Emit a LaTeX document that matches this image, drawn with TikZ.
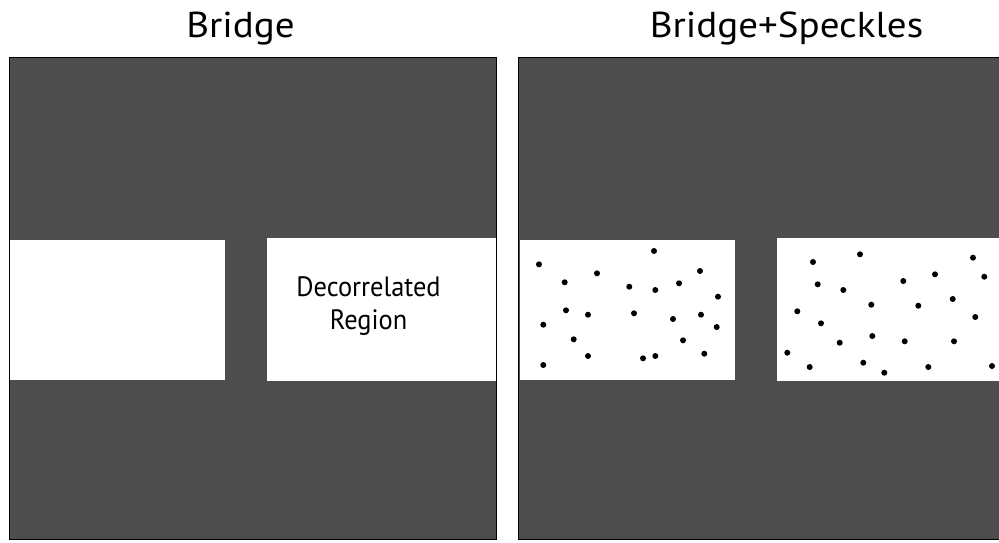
\documentclass[tikz,border=0pt]{standalone}
\usepackage{graphicx}
\usepackage{fontspec}
\setmainfont{PT Sans}
\definecolor{panelgray}{HTML}{4D4D4D}
\begin{document}
\begin{tikzpicture}[x=1pt,y=-1pt,
  panelfill/.style={fill=panelgray},
  frameline/.style={draw=black,line width=1.5pt},
  hole/.style={fill=white},
  speck/.style={fill=black},
  paneltitle/.style={anchor=base,inner sep=0pt,font=\fontsize{36}{40}\selectfont},
  regiontext/.style={anchor=base,inner sep=0pt,font=\fontsize{28}{32}\selectfont}]
\useasboundingbox (0,0) rectangle (999,542);
\clip (0,0) rectangle (999,542);
% titles
\node[paneltitle] (t1) at (240.5,37.5) {\scalebox{1.085}[1]{Bridge}};
\node[paneltitle] (t2) at (786.5,37.5) {\scalebox{1.085}[1]{Bridge+Speckles}};
% left panel
\fill[panelfill] (9.5,57.5) rectangle (496.5,539.5);
\fill[hole] (10,240) rectangle (225,380);
\fill[hole] (267,238) rectangle (496.5,381);
\draw[frameline] (9.5,57.5) rectangle (496.5,539.5);
\node[regiontext] (r1) at (368.5,296.7) {\scalebox{0.943}[1]{Decorrelated}};
\node[regiontext] (r2) at (368.5,329) {\scalebox{0.943}[1]{Region}};
% right panel
\fill[panelfill] (518.5,57.5) rectangle (1010,539.5);
\fill[hole] (520,240) rectangle (735,380);
\fill[hole] (777,238) rectangle (1010,381);
\draw[frameline] (518.5,57.5) rectangle (1010,539.5);
% speckles
\foreach \px/\py in {539/264.3,654/251,564.7/282.3,597/273.3,700/271,629.3/286.7,655.3/290,679/283.3,718/296.7,566/310.3,588/314.7,634/313.3,673/319,701/314.7,543.3/324.7,716.7/327,573.7/339.3,683/340.3,588/356,643/358.3,655.3/356,704.3/353.7,543.3/365,
813/262,860/254.3,973/257.7,817.7/284.3,843.3/290,903.3/281,935/274.3,984.3/276.7,797.3/311.3,871.3/304.7,918.3/305.7,952.7/299,821/323.3,975.3/317,872.3/336,839.7/342.7,904.7/341.3,954/341.3,787.3/352.7,809.7/367,863.3/362.7,884.3/372.7,928.3/367,992/366}
  \fill[speck] (\px,\py) circle[radius=3];
\end{tikzpicture}
\end{document}
